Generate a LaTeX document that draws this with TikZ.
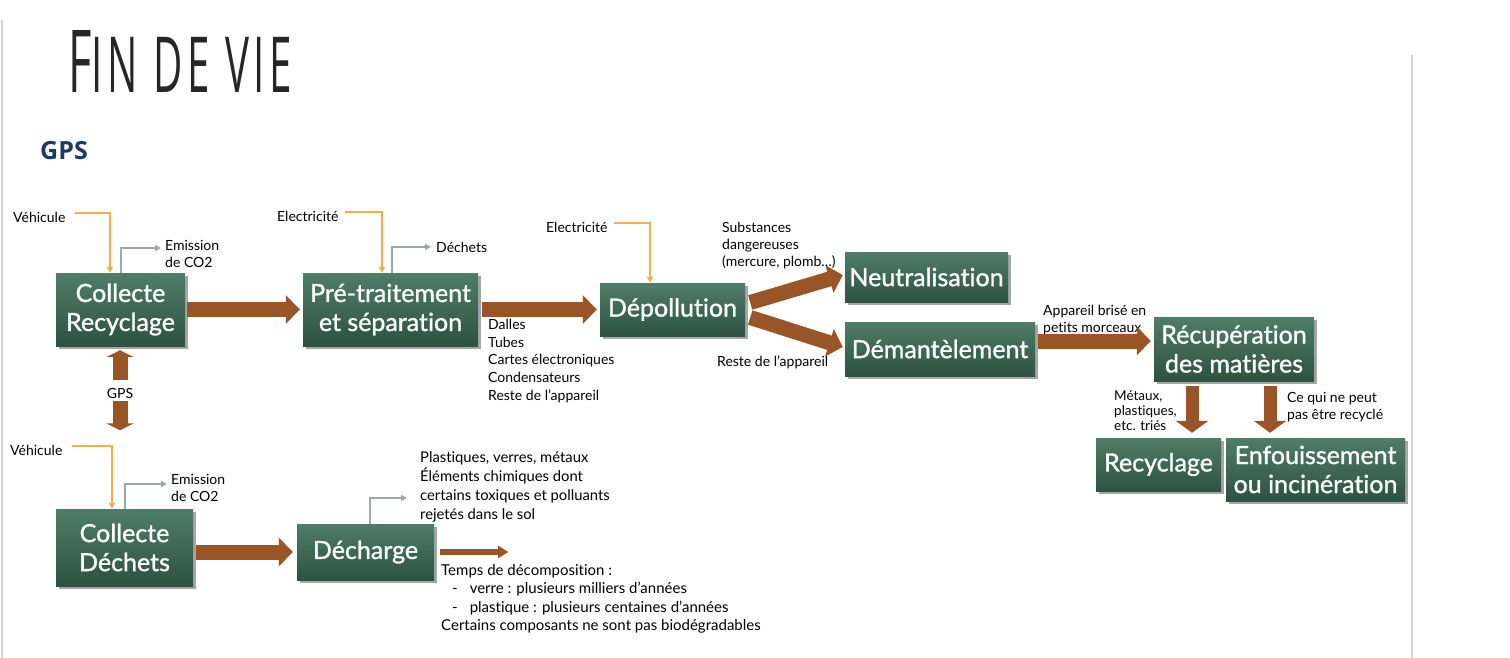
\documentclass[tikz,border=0pt]{standalone}
\usepackage{fontspec}
\setmainfont{Lato}[Ligatures={NoCommon}]
\newfontfamily\boxfont{Lato}[Ligatures={NoCommon},FakeBold=1.2]
\newfontfamily\titlefont{Open Sans}[LetterSpace=12]
\newfontfamily\gpsfont{Open Sans}
\usetikzlibrary{arrows.meta,calc,shadows}
\definecolor{boxtop}{HTML}{4E7D68}
\definecolor{boxbot}{HTML}{2D5241}
\definecolor{brn}{HTML}{9A5527}
\definecolor{org}{HTML}{F2B04A}
\definecolor{gry}{HTML}{9EA6AE}
\definecolor{gpsblue}{HTML}{1C3A66}
\definecolor{frame}{HTML}{D4D4D4}
\begin{document}
\begin{tikzpicture}[x=1pt,y=-1pt,
  box/.style={top color=boxtop,bottom color=boxbot,text=white,
    font=\boxfont\fontsize{25}{29}\selectfont,align=center,inner sep=0pt,
    drop shadow={shadow xshift=2.5pt,shadow yshift=-2.5pt,fill=black,opacity=0.35}},
  lbl/.style={font=\fontsize{14}{17}\selectfont,inner sep=0pt,align=left,text=black},
  big/.style={draw=brn,line width=15pt,-{Triangle[width=28pt,length=14pt]}},
  vbig/.style={draw=brn,line width=13pt,-{Triangle[width=32pt,length=12pt]}},
  gpsarr/.style={draw=brn,line width=15pt,-{Triangle[width=27pt,length=7pt]}},
  small/.style={draw=brn,line width=6pt,-{Triangle[width=12pt,length=10pt]}},
  orl/.style={draw=org,line width=1.3pt,-{Triangle[width=6pt,length=6pt]}},
  gyl/.style={draw=gry,line width=1.3pt,-{Triangle[width=6pt,length=6pt]}},
]
\useasboundingbox (0,0) rectangle (1510,658);
\fill[white] (0,0) rectangle (1510,658);
\draw[frame,line width=1.5pt] (2,20) -- (2,658);
\draw[frame,line width=1.5pt] (1412,55) -- (1412,658);

% title
\node[anchor=base west,inner sep=0pt,text=black!85] (title) at (68,93)
  {\resizebox{224pt}{62pt}{\titlefont F\scalebox{0.89}{IN DE VIE}}};
\node[anchor=west,inner sep=0pt,text=gpsblue,font=\gpsfont\bfseries\fontsize{25}{30}\selectfont] (gpst) at (40,151) {GPS};

% boxes
\node[box,minimum width=129pt,minimum height=73pt] (cr) at (120.5,309.5) {Collecte\\Recyclage};
\node[box,minimum width=175pt,minimum height=73pt] (pt) at (390.5,309.5) {Pré-traitement\\et séparation};
\node[box,minimum width=145pt,minimum height=53pt] (dep) at (672.5,309.5) {Dépollution};
\node[box,minimum width=163pt,minimum height=50pt] (neu) at (926.5,277) {Neutralisation};
\node[box,minimum width=190pt,minimum height=54pt] (dem) at (940,349) {Démantèlement};
\node[box,minimum width=160pt,minimum height=64pt] (rec) at (1234,349) {Récupération\\des matières};
\node[box,minimum width=125pt,minimum height=53pt] (recy) at (1158.5,464.5) {Recyclage};
\node[box,minimum width=179pt,minimum height=63pt] (enf) at (1315.5,469.5) {Enfouissement\\ou incinération};
\node[box,minimum width=137pt,minimum height=77pt] (cd) at (124.5,547.5) {Collecte\\Déchets};
\node[box,minimum width=137pt,minimum height=56pt] (dec) at (365.5,552) {Décharge};

% labels
\node[lbl,anchor=base west] (v1) at (13,222) {Véhicule};
\node[lbl,anchor=north west] (em1) at (165,240) {Emission\\de CO2};
\node[lbl,anchor=base west] (e1) at (277,221) {Electricité};
\node[lbl,anchor=base west] (dech) at (436,252) {Déchets};
\node[lbl,anchor=base west] (e2) at (546,232) {Electricité};
\node[lbl,anchor=north west] (subs) at (722,222) {Substances\\dangereuses\\(mercure, plomb…)};
\node[lbl,anchor=north west,font=\fontsize{14}{17.7}\selectfont] (dalles) at (488,319) {Dalles\\Tubes\\Cartes électroniques\\Condensateurs\\Reste de l'appareil};
\node[lbl,anchor=base west] (reste) at (717,366) {Reste de l'appareil};
\node[lbl,anchor=north west] (app) at (1043,305) {Appareil brisé en\\petits morceaux};
\node[lbl,anchor=north west,font=\fontsize{13.5}{15}\selectfont] (met) at (1114,391) {Métaux,\\plastiques,\\etc. triés};
\node[lbl,anchor=north west] (ceq) at (1287,392) {Ce qui ne peut\\pas être recyclé};
\node[lbl,anchor=center] (gps) at (120,393) {GPS};
\node[lbl,anchor=base west] (v2) at (10,455) {Véhicule};
\node[lbl,anchor=north west] (em2) at (171,474) {Emission\\de CO2};
\node[lbl,anchor=north west,font=\fontsize{14.8}{19}\selectfont] (plast) at (420,451) {Plastiques, verres, métaux\\Éléments chimiques dont\\certains toxiques et polluants\\rejetés dans le sol};
\node[lbl,anchor=north west,font=\fontsize{15}{18.5}\selectfont] (temps) at (441,564) {Temps de décomposition :\\\hspace*{11pt}-\hspace*{12pt}verre : plusieurs milliers d'années\\\hspace*{11pt}-\hspace*{12pt}plastique : plusieurs centaines d'années\\Certains composants ne sont pas biodégradables};

% brown arrows
\draw[big] ($(cr.east)+(2,0)$) -- ($(pt.west)+(-3,0)$);
\draw[big] ($(pt.east)+(4,0)$) -- ($(dep.west)+(-3,0)$);
\draw[big] ($(dep.east)+(5,-7)$) -- ($(neu.west)+(-2,-2)$);
\draw[big] ($(dep.east)+(5,8)$) -- ($(dem.west)+(-2,-2)$);
\draw[big] ($(dem.east)+(3,-8)$) -- ($(rec.west)+(-3,-8)$);
\draw[big] ($(cd.east |- dec.west)+(3,0)$) -- ($(dec.west)+(-4,0)$);
\coordinate (decend) at ($(dec.east)+(74,0)$);
\draw[small] ($(dec.east)+(6,0)$) -- (decend);
\draw[vbig] ($(rec.south)+(-42,5)$) -- ($(recy.north -| rec.south)+(-42,-5)$);
\draw[vbig] ($(rec.south)+(36,5)$) -- ($(enf.north -| rec.south)+(36,-5)$);
\draw[gpsarr] ($(gps.north)+(0,-8)$) -- ($(cr.south)+(-0.5,4)$);
\coordinate (gpsend) at ($(gps.south)+(0,32)$);
\draw[gpsarr] ($(gps.south)+(0,3)$) -- (gpsend);

% thin lines
\draw[orl] ($(v1.east)+(9,-4)$) -| ($(cr.north)+(-10.5,0)$);
\draw[gyl] ($(cr.north)+(0.5,0)$) |- ($(em1.north west)+(-4,8)$);
\draw[orl] ($(e1.east)+(6,-4)$) -| ($(pt.north)+(-8.5,0)$);
\draw[gyl] ($(pt.north)+(1.5,0)$) |- ($(dech.west)+(-5,0)$);
\draw[orl] ($(e2.east)+(6,-4)$) -| ($(dep.north)+(-22.5,0)$);
\draw[orl] ($(v2.east)+(9,-4)$) -| ($(cd.north)+(-12.5,0)$);
\draw[gyl] ($(cd.north)+(0.5,0)$) |- ($(em2.north west)+(-4,10)$);
\draw[gyl] ($(dec.north)+(4.5,0)$) |- ($(plast.north west)+(-13,47)$);
\end{tikzpicture}
\end{document}
